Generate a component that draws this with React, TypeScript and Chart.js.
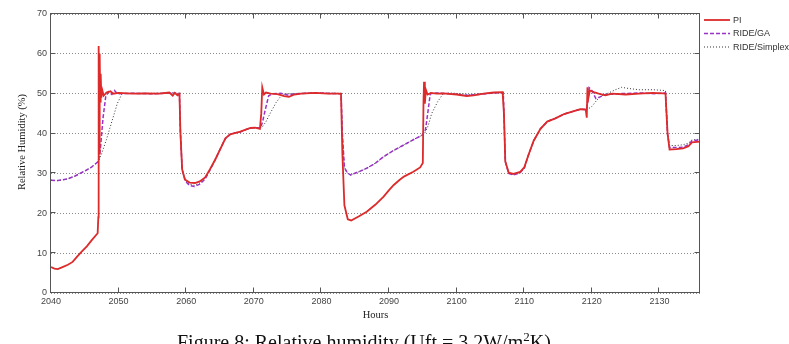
import React, { useEffect, useRef } from "react";
import { Chart, registerables } from "chart.js";
Chart.register(...registerables);

const xTickValues = [2040, 2050, 2060, 2070, 2080, 2090, 2100, 2110, 2120, 2130];
const yTickValues = [0, 10, 20, 30, 40, 50, 60, 70];
const seriesNames = ["PI", "RIDE/GA", "RIDE/Simplex"];

const piHours = [2040, 2040.5, 2041, 2041.7, 2042.5, 2043.2, 2043.8, 2044.5, 2045.3, 2046, 2046.9, 2047.0, 2047.05, 2047.12, 2047.2, 2047.28, 2047.35, 2047.45, 2047.6, 2047.8, 2048.2, 2048.8, 2049.2, 2050, 2052, 2054, 2056, 2057.5, 2058, 2058.3, 2058.7, 2059.0, 2059.15, 2059.4, 2059.8, 2060.5, 2061.3, 2062, 2062.8, 2063.5, 2064.3, 2065, 2065.8, 2066.5, 2067.3, 2068, 2068.8, 2069.5, 2070.2, 2070.9, 2071.1, 2071.25, 2071.5, 2071.8, 2072.5, 2073.5, 2074.5, 2075.2, 2076, 2077, 2079, 2081, 2082.9, 2083.1, 2083.4, 2083.9, 2084.4, 2085.5, 2086.7, 2088, 2089.2, 2090, 2090.7, 2091.5, 2092.2, 2093.6, 2094.6, 2095.0, 2095.1, 2095.18, 2095.3, 2095.45, 2095.7, 2096.2, 2097, 2098, 2100, 2101.5, 2102.5, 2104, 2105.5, 2106.8, 2107.0, 2107.2, 2107.7, 2108.4, 2109.4, 2110, 2110.6, 2111.4, 2112.4, 2113.4, 2114.6, 2115.9, 2117.1, 2118.3, 2119.1, 2119.25, 2119.35, 2119.5, 2119.7, 2120.3, 2121, 2122, 2123, 2125, 2127, 2129, 2130.5, 2130.9, 2131.2, 2131.5, 2132.5, 2133.5, 2134.3, 2134.8, 2136];
const piValues = [6.5, 6.1, 6.0, 6.5, 7.1, 7.8, 9.0, 10.3, 11.7, 13.2, 15.0, 19, 62, 35, 60, 48, 55, 49, 50.8, 49.5, 50.3, 50.6, 50.0, 50.2, 50.0, 50.1, 50.0, 50.3, 49.5, 50.2, 49.6, 50.0, 40, 31, 28.5, 27.7, 27.6, 28.0, 29.0, 31.0, 33.5, 36, 38.8, 39.8, 40.2, 40.5, 41.0, 41.4, 41.5, 41.2, 45, 51.6, 49.8, 50.3, 50.0, 49.9, 49.4, 49.2, 49.8, 50.0, 50.2, 50.0, 50.0, 35, 22, 18.5, 18.2, 19.2, 20.4, 22.2, 24.2, 25.8, 27.1, 28.3, 29.2, 30.4, 31.5, 32.6, 48, 53, 47.5, 51, 49.8, 50.2, 50.0, 50.1, 49.8, 49.4, 49.6, 50.0, 50.3, 50.4, 45, 33, 30.2, 29.9, 30.4, 31.5, 34.5, 38.2, 41.2, 43, 43.8, 44.9, 45.5, 46.1, 46.0, 44.0, 51.6, 49, 50.8, 50.4, 50.0, 49.6, 50.0, 49.8, 50.0, 50.2, 50.1, 50, 40, 36, 36.1, 36.3, 36.8, 37.8, 38.0];

const gaHours = [2040, 2041, 2042.4, 2043.5, 2044.3, 2045.2, 2046, 2047, 2047.3, 2047.7, 2048.1, 2048.5, 2049, 2049.4, 2049.8, 2052, 2055, 2058, 2059, 2059.15, 2059.4, 2059.9, 2060.5, 2061.2, 2062, 2062.8, 2063.5, 2064.3, 2065, 2065.8, 2066.5, 2067.3, 2068, 2068.8, 2069.5, 2070.2, 2071, 2071.3, 2071.7, 2072.2, 2072.8, 2074, 2075.2, 2076, 2079, 2082.9, 2083.1, 2083.4, 2083.8, 2084.3, 2085.5, 2086.7, 2088, 2089.2, 2090.5, 2091.7, 2093, 2094.2, 2094.9, 2095.4, 2095.8, 2096.1, 2097, 2099, 2101.5, 2103, 2105, 2106.9, 2107.0, 2107.2, 2107.7, 2108.4, 2109.4, 2110, 2110.6, 2111.4, 2112.4, 2113.4, 2114.6, 2115.9, 2117.1, 2118.3, 2119.2, 2119.4, 2119.6, 2120, 2120.6, 2121.2, 2122, 2124, 2127, 2129.5, 2130.9, 2131.2, 2131.5, 2132.5, 2133.5, 2134.3, 2134.8, 2136];
const gaValues = [28.3, 28.2, 28.6, 29.3, 30, 30.8, 31.6, 33, 36, 44, 49.3, 50.5, 49.8, 50.8, 50.0, 50.1, 50.0, 50.2, 50.0, 40, 31, 28, 27, 26.7, 27.3, 28.6, 30.8, 33.5, 36, 38.8, 39.8, 40.2, 40.4, 41.0, 41.4, 41.5, 41.4, 43, 46, 49.5, 50.0, 50.1, 49.6, 50.0, 50.2, 50.0, 40, 31.5, 30.2, 29.6, 30.4, 31.3, 32.6, 34.2, 35.6, 36.7, 37.9, 39, 39.6, 41, 46, 50.0, 50.2, 50.0, 49.6, 49.8, 50.1, 50.3, 45, 33, 30, 29.6, 30.2, 31.3, 34.5, 38.2, 41.2, 43, 43.8, 44.9, 45.5, 46.1, 46.0, 48, 51.5, 50.8, 48.8, 49.2, 49.8, 50.0, 50.2, 50.0, 50.2, 40, 36.5, 36.5, 36.6, 37.2, 38.2, 38.4];

const sxHours = [2040, 2041, 2042.4, 2043.5, 2044.3, 2045.2, 2046, 2047, 2047.5, 2048.2, 2049, 2049.8, 2050.5, 2052, 2055, 2058, 2059, 2059.15, 2059.4, 2059.9, 2060.5, 2061.2, 2062, 2062.8, 2063.5, 2064.3, 2065, 2065.8, 2066.5, 2067.3, 2068, 2068.8, 2069.5, 2070.2, 2071.2, 2071.8, 2072.4, 2073.3, 2074.2, 2075, 2079, 2082.9, 2083.1, 2083.4, 2083.8, 2084.3, 2085.5, 2086.7, 2088, 2089.2, 2090.5, 2091.7, 2093, 2094.2, 2095.2, 2095.8, 2096.3, 2097.2, 2098, 2099, 2102, 2105, 2106.9, 2107.0, 2107.2, 2107.7, 2108.4, 2109.4, 2110, 2110.6, 2111.4, 2112.4, 2113.4, 2114.6, 2115.9, 2117.1, 2118.3, 2119.3, 2120, 2120.8, 2121.5, 2122.5, 2123.5, 2124.4, 2125.5, 2127, 2129, 2130.9, 2131.2, 2131.5, 2132.5, 2133.5, 2134.3, 2134.8, 2136];
const sxValues = [28.3, 28.2, 28.6, 29.3, 30, 30.8, 31.6, 33, 35, 38.5, 43, 47.5, 50.0, 50.1, 50.1, 50.2, 50.1, 40, 31, 28.2, 27.3, 27.0, 27.6, 28.8, 30.9, 33.6, 36, 38.8, 39.8, 40.2, 40.4, 41.0, 41.4, 41.5, 41.5, 43, 45, 47.8, 49.8, 50.0, 50.2, 50.1, 40, 31.5, 30.2, 29.6, 30.4, 31.3, 32.6, 34.2, 35.6, 36.7, 37.9, 39, 39.8, 42, 45, 48, 50.0, 50.2, 49.8, 50.2, 50.3, 45, 33, 30, 29.7, 30.3, 31.4, 34.5, 38.2, 41.2, 43, 43.8, 44.9, 45.5, 46.1, 46.0, 46.8, 48.5, 49.5, 50.2, 51.0, 51.6, 51.3, 51.0, 51.0, 50.8, 40, 37, 37.0, 37.2, 37.6, 38.4, 38.6];

const toPoints = (xs: number[], ys: number[]) => xs.map((x, i) => ({ x, y: ys[i] }));

const frame = {
  id: "matlabFrame",
  afterDatasetsDraw(chart: any) {
    const { ctx, chartArea: a, scales } = chart;
    const L = Math.round(a.left) - 0.5;
    const R = Math.round(a.right) - 0.5;
    const T = Math.round(a.top) - 0.5;
    const B = Math.round(a.bottom) - 0.5;
    ctx.save();
    ctx.setLineDash([]);
    ctx.strokeStyle = "#555";
    ctx.lineWidth = 1;
    ctx.strokeRect(L, T, R - L, B - T);
    ctx.beginPath();
    xTickValues.forEach((v) => {
      const px = Math.round(scales.x.getPixelForValue(v)) - 0.5;
      ctx.moveTo(px, B); ctx.lineTo(px, B - 5);
      ctx.moveTo(px, T); ctx.lineTo(px, T + 5);
    });
    yTickValues.forEach((v) => {
      const py = Math.round(scales.y.getPixelForValue(v)) - 0.5;
      ctx.moveTo(L, py); ctx.lineTo(L + 5, py);
      ctx.moveTo(R, py); ctx.lineTo(R - 5, py);
    });
    ctx.stroke();

    // legend
    const ds = chart.data.datasets;
    const ly = [20, 33.5, 47];
    ds.forEach((d: any, i: number) => {
      ctx.beginPath();
      ctx.strokeStyle = d.borderColor;
      ctx.lineWidth = d.borderWidth;
      ctx.setLineDash(d.borderDash || []);
      ctx.moveTo(704, ly[i]);
      ctx.lineTo(730, ly[i]);
      ctx.stroke();
      ctx.setLineDash([]);
      ctx.fillStyle = "#333";
      ctx.font = "9px 'Liberation Sans', Arial, sans-serif";
      ctx.textBaseline = "middle";
      ctx.textAlign = "left";
      ctx.fillText(seriesNames[i], 733, ly[i] + 0.5);
    });

    // axis titles
    ctx.fillStyle = "#222";
    ctx.font = "10.5px 'Liberation Serif', 'Times New Roman', serif";
    ctx.textAlign = "center";
    ctx.textBaseline = "middle";
    ctx.fillText("Hours", (a.left + a.right) / 2, 315);
    ctx.translate(22, 142);
    ctx.rotate(-Math.PI / 2);
    ctx.fillText("Relative Humidity (%)", 0, 0);
    ctx.restore();
  },
};

export default function App() {
  const ref = useRef<HTMLCanvasElement>(null);
  useEffect(() => {
    const tickFont = { family: "'Liberation Sans', Arial, sans-serif", size: 9 };
    const chart = new Chart(ref.current!, {
      type: "line",
      data: {
        datasets: [
          { label: seriesNames[0], data: toPoints(piHours, piValues), borderColor: "#dd2a2a", borderWidth: 1.8, pointRadius: 0, tension: 0, fill: false },
          { label: seriesNames[1], data: toPoints(gaHours, gaValues), borderColor: "#9b32c8", borderWidth: 1.5, borderDash: [4, 2], pointRadius: 0, tension: 0, fill: false },
          { label: seriesNames[2], data: toPoints(sxHours, sxValues), borderColor: "#333333", borderWidth: 1, borderDash: [1, 2], pointRadius: 0, tension: 0, fill: false },
        ],
      },
      options: {
        responsive: false,
        animation: false,
        devicePixelRatio: 1,
        layout: { padding: { left: 0, right: 89, top: 14, bottom: 0 } },
        plugins: { legend: { display: false }, tooltip: { enabled: false } },
        scales: {
          x: {
            type: "linear",
            min: 2040,
            max: 2136,
            afterBuildTicks: (s: any) => { s.ticks = xTickValues.map((v) => ({ value: v })); },
            afterFit: (s: any) => { s.height = 51; },
            ticks: { font: tickFont, color: "#444", padding: 3, maxRotation: 0, autoSkip: false, includeBounds: false, callback: (v: any) => String(v) },
            grid: { display: false, drawTicks: false },
            border: { display: false },
          },
          y: {
            min: 0,
            max: 70,
            afterBuildTicks: (s: any) => { s.ticks = yTickValues.map((v) => ({ value: v })); },
            afterFit: (s: any) => { s.width = 51; },
            ticks: { font: tickFont, color: "#444", padding: 4, autoSkip: false, callback: (v: any) => String(v) },
            grid: { color: "#8a8a8a", lineWidth: 1, drawTicks: false },
            border: { display: false, dash: [1, 2] },
          },
        },
      },
      plugins: [frame],
    } as any);
    return () => chart.destroy();
  }, []);
  return (
    <div style={{ position: "fixed", left: 0, top: 0, width: 789, height: 344, background: "#fff", overflow: "hidden" }}>
      <canvas ref={ref} width={789} height={344} style={{ position: "absolute", left: 0, top: 0, width: 789, height: 344 }} />
      <div style={{ position: "absolute", left: 177, top: 330, fontFamily: "'Liberation Serif', 'Times New Roman', serif", fontSize: 20, color: "#111", whiteSpace: "nowrap", lineHeight: "24px" }}>
        Figure 8: Relative humidity (Uft = 3.2W/m<sup style={{ fontSize: 13, lineHeight: 0 }}>2</sup>K)
      </div>
    </div>
  );
}
